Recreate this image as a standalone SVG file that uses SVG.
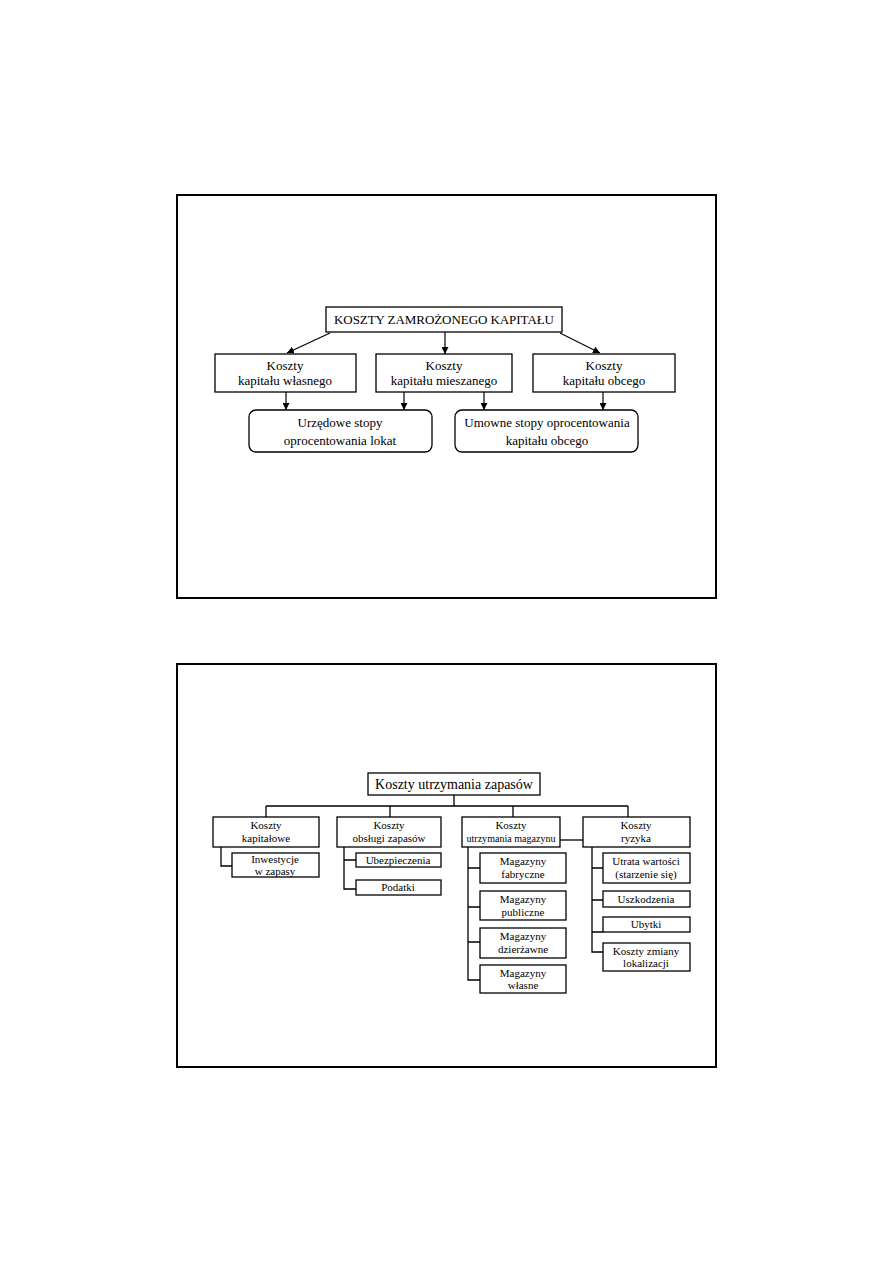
<svg xmlns="http://www.w3.org/2000/svg" width="893" height="1263" viewBox="0 0 893 1263">
<defs>
<marker id="ah" viewBox="0 0 10 10" refX="10" refY="5" markerWidth="7" markerHeight="7" markerUnits="userSpaceOnUse" orient="auto">
<path d="M0,0 L10,5 L0,10 z" fill="#000"/>
</marker>
<style>
.frame{fill:none;stroke:#000;stroke-width:2}
.box{fill:#fff;stroke:#000;stroke-width:1.3}
.ln{fill:none;stroke:#000;stroke-width:1.3}
.ar{fill:none;stroke:#000;stroke-width:1.2;marker-end:url(#ah)}
text{font-family:"Liberation Serif","Times New Roman",serif;fill:#000;text-anchor:middle}
.t1{font-size:13px}
.t2{font-size:11px}
.t3{font-size:14px}
</style>
</defs>
<rect width="893" height="1263" fill="#fff"/>
<rect class="frame" x="177" y="195" width="539" height="403"/>
<rect class="frame" x="177" y="664" width="539" height="403"/>

<g id="connectors1">
<path class="ar" d="M330,333 L287,353"/>
<path class="ar" d="M445,332 L445,354"/>
<path class="ar" d="M560,333 L600,353"/>
<path class="ar" d="M286,392 L286,410"/>
<path class="ar" d="M404,392 L404,410"/>
<path class="ar" d="M484,392 L484,410"/>
<path class="ar" d="M603,392 L603,410"/>
</g>
<g id="n_top1"><rect class="box" x="326" y="307" width="236" height="25"/><text class="t1" x="444" y="324" textLength="220" lengthAdjust="spacing">KOSZTY ZAMROŻONEGO KAPITAŁU</text></g>
<g id="n_wlasny"><rect class="box" x="215" y="354" width="141" height="38"/><text class="t1" x="285" y="370">Koszty</text><text class="t1" x="285" y="385">kapitału własnego</text></g>
<g id="n_mieszany"><rect class="box" x="376" y="354" width="136" height="38"/><text class="t1" x="444" y="370">Koszty</text><text class="t1" x="444" y="385">kapitału mieszanego</text></g>
<g id="n_obcy"><rect class="box" x="533" y="354" width="142" height="38"/><text class="t1" x="604" y="370">Koszty</text><text class="t1" x="604" y="385">kapitału obcego</text></g>
<g id="n_urzedowe"><rect class="box" x="249" y="410" width="183" height="42" rx="7"/><text class="t1" x="340" y="427">Urzędowe stopy</text><text class="t1" x="340" y="445">oprocentowania lokat</text></g>
<g id="n_umowne"><rect class="box" x="455" y="410" width="183" height="42" rx="7"/><text class="t1" x="547" y="427">Umowne stopy oprocentowania</text><text class="t1" x="547" y="445">kapitału obcego</text></g>

<g id="connectors2">
<path class="ln" d="M454,795 V806 M266,806 H628 M266,806 V817 M390,806 V817 M513,806 V817 M628,806 V817"/>
<path class="ln" d="M560,840 H583"/>
<path class="ln" d="M221,847 V866 H232"/>
<path class="ln" d="M344,847 V889 H356 M344,860 H356"/>
<path class="ln" d="M468,847 V980 H480 M468,868 H480 M468,907 H480 M468,942 H480"/>
<path class="ln" d="M592,847 V952 H603 M592,868 H603 M592,900 H603 M592,932 H603"/>
</g>
<g id="n_top2"><rect class="box" x="368" y="773" width="172" height="22"/><text class="t3" x="454" y="789">Koszty utrzymania zapasów</text></g>
<g id="n_kapitalowe"><rect class="box" x="213" y="817" width="106" height="30"/><text class="t2" x="266" y="829">Koszty</text><text class="t2" x="266" y="842">kapitałowe</text></g>
<g id="n_obslugi"><rect class="box" x="337" y="817" width="104" height="30"/><text class="t2" x="389" y="829">Koszty</text><text class="t2" x="389" y="842">obsługi zapasów</text></g>
<g id="n_magazynu"><rect class="box" x="462" y="817" width="98" height="30"/><text class="t2" x="511" y="829">Koszty</text><text class="t2" x="511" y="842" textLength="89" lengthAdjust="spacingAndGlyphs">utrzymania magazynu</text></g>
<g id="n_ryzyka"><rect class="box" x="583" y="817" width="107" height="30"/><text class="t2" x="636" y="829">Koszty</text><text class="t2" x="636" y="842">ryzyka</text></g>
<g id="n_inwestycje"><rect class="box" x="232" y="853" width="87" height="24"/><text class="t2" x="275" y="863">Inwestycje</text><text class="t2" x="275" y="875">w zapasy</text></g>
<g id="n_ubezp"><rect class="box" x="356" y="853" width="85" height="14"/><text class="t2" x="398" y="864">Ubezpieczenia</text></g>
<g id="n_podatki"><rect class="box" x="356" y="880" width="85" height="15"/><text class="t2" x="398" y="891">Podatki</text></g>
<g id="n_fabryczne"><rect class="box" x="480" y="853" width="86" height="30"/><text class="t2" x="523" y="865">Magazyny</text><text class="t2" x="523" y="878">fabryczne</text></g>
<g id="n_publiczne"><rect class="box" x="480" y="891" width="86" height="29"/><text class="t2" x="523" y="903">Magazyny</text><text class="t2" x="523" y="916">publiczne</text></g>
<g id="n_dzierzawne"><rect class="box" x="480" y="928" width="86" height="30"/><text class="t2" x="523" y="940">Magazyny</text><text class="t2" x="523" y="953">dzierżawne</text></g>
<g id="n_wlasne"><rect class="box" x="480" y="965" width="86" height="28"/><text class="t2" x="523" y="977">Magazyny</text><text class="t2" x="523" y="989">własne</text></g>
<g id="n_utrata"><rect class="box" x="603" y="853" width="87" height="30"/><text class="t2" x="646" y="865">Utrata wartości</text><text class="t2" x="646" y="878">(starzenie się)</text></g>
<g id="n_uszkodzenia"><rect class="box" x="603" y="891" width="87" height="16"/><text class="t2" x="646" y="903">Uszkodzenia</text></g>
<g id="n_ubytki"><rect class="box" x="603" y="917" width="87" height="15"/><text class="t2" x="646" y="928">Ubytki</text></g>
<g id="n_lokalizacja"><rect class="box" x="603" y="943" width="87" height="28"/><text class="t2" x="646" y="955">Koszty zmiany</text><text class="t2" x="646" y="967">lokalizacji</text></g>
</svg>
